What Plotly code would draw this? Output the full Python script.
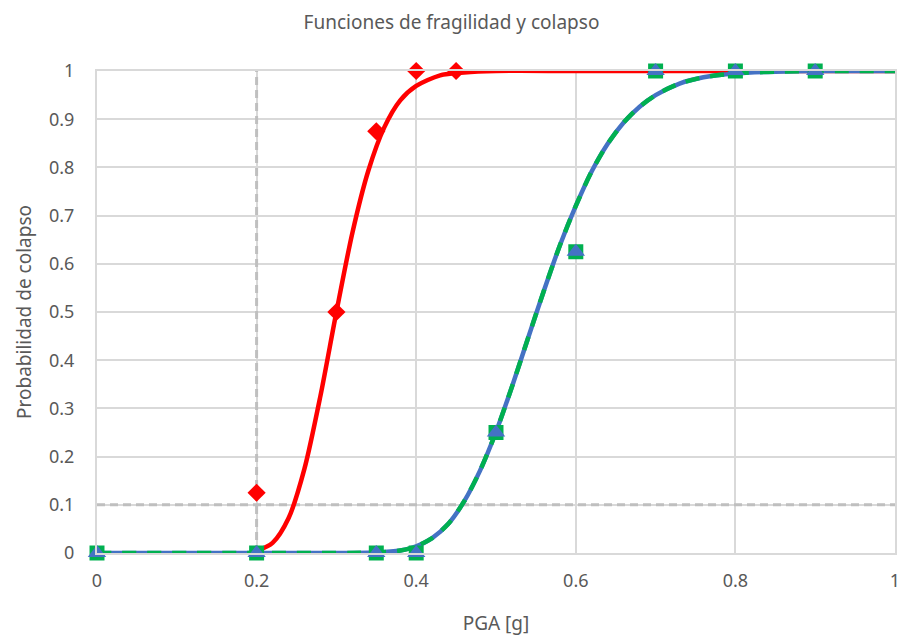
import plotly.graph_objects as go

red_pts_x = [0.2, 0.3, 0.35, 0.4, 0.45]
red_pts_y = [0.125, 0.5, 0.875, 1.0, 1.0]

sq_pts_x = [0.0, 0.2, 0.35, 0.4, 0.5, 0.6, 0.7, 0.8, 0.9]
sq_pts_y = [0.0, 0.0, 0.0, 0.0, 0.25, 0.625, 1.0, 1.0, 1.0]

tri_pts_x = [0.0, 0.2, 0.35, 0.4, 0.5, 0.6, 0.7, 0.8, 0.9]
tri_pts_y = [0.0, 0.0, 0.0, 0.0, 0.25, 0.625, 1.0, 1.0, 1.0]

# Fitted curves
red_curve_x = [0.2, 0.22, 0.24, 0.26, 0.28, 0.30, 0.32, 0.34, 0.36, 0.38,
               0.40, 0.43, 0.46, 0.50, 0.60, 0.80, 1.0]
red_curve_y = [0.004, 0.021, 0.072, 0.175, 0.326, 0.50, 0.664, 0.793, 0.883, 0.939,
               0.969, 0.991, 0.997, 1.0, 1.0, 1.0, 1.0]

fit_curve_x = [0.0, 0.2, 0.35, 0.38, 0.40, 0.42, 0.44, 0.46, 0.48, 0.50, 0.52,
               0.54, 0.56, 0.58, 0.60, 0.62, 0.64, 0.66, 0.68, 0.70, 0.73,
               0.76, 0.80, 0.85, 0.90, 1.0]
fit_curve_y = [0.0, 0.0, 0.001, 0.005, 0.014, 0.031, 0.06, 0.107, 0.171, 0.251, 0.345,
               0.445, 0.544, 0.638, 0.72, 0.792, 0.849, 0.893, 0.926, 0.95, 0.974,
               0.987, 0.995, 0.9986, 1.0, 1.0]

# Reference lines
vref_x = [0.2, 0.2]
vref_y = [0.0, 1.0]
href_x = [0.0, 1.0]
href_y = [0.1, 0.1]

x_ticks = [0, 0.2, 0.4, 0.6, 0.8, 1]
y_ticks = [0, 0.1, 0.2, 0.3, 0.4, 0.5, 0.6, 0.7, 0.8, 0.9, 1]

RED = "#ff0000"
BLUE = "#4472c4"
GREEN = "#00b050"
REF = "#bfbfbf"
GRID = "#d9d9d9"

fig = go.Figure()
fig.add_trace(go.Scatter(x=vref_x, y=vref_y, mode="lines", cliponaxis=False,
                         line=dict(color=REF, width=3, dash="8px,5px"), hoverinfo="skip"))
fig.add_trace(go.Scatter(x=href_x, y=href_y, mode="lines", cliponaxis=False,
                         line=dict(color=REF, width=3, dash="8px,5px"), hoverinfo="skip"))
fig.add_trace(go.Scatter(x=red_curve_x, y=red_curve_y, mode="lines", cliponaxis=False,
                         line=dict(color=RED, width=4.5, shape="spline", smoothing=0.8)))
fig.add_trace(go.Scatter(x=red_pts_x, y=red_pts_y, mode="markers", cliponaxis=False,
                         marker=dict(symbol="diamond", size=14, color=RED)))
fig.add_trace(go.Scatter(x=fit_curve_x, y=fit_curve_y, mode="lines", cliponaxis=False,
                         line=dict(color=BLUE, width=4.5, shape="spline", smoothing=0.8)))
fig.add_trace(go.Scatter(x=fit_curve_x, y=fit_curve_y, mode="lines", cliponaxis=False,
                         line=dict(color=GREEN, width=4.5, shape="spline", smoothing=0.8,
                                   dash="14px,11px")))
fig.add_trace(go.Scatter(x=sq_pts_x, y=sq_pts_y, mode="markers", cliponaxis=False,
                         marker=dict(symbol="square", size=15, color=GREEN)))
fig.add_trace(go.Scatter(x=tri_pts_x, y=tri_pts_y, mode="markers", cliponaxis=False,
                         marker=dict(symbol="triangle-up", size=16, color=BLUE)))

font_family = "Noto Sans, sans-serif"
fig.update_layout(
    width=903, height=639,
    paper_bgcolor="white", plot_bgcolor="white",
    showlegend=False,
    margin=dict(l=97, r=8, t=71, b=86, autoexpand=False),
    title=dict(text="Funciones de fragilidad y colapso", x=0.5, xanchor="center",
               y=1 - 22 / 639, yanchor="middle",
               font=dict(family=font_family, size=19, color="#595959")),
    font=dict(family=font_family, color="#595959"),
)
fig.update_xaxes(range=[0, 1], tickvals=x_ticks, ticktext=[str(v) for v in x_ticks],
                 showgrid=True, gridcolor=GRID, gridwidth=2, zeroline=False,
                 showline=True, linecolor=GRID, linewidth=2, mirror=True,
                 ticks="", automargin=False, ticklabelstandoff=10,
                 tickfont=dict(size=18, color="#595959"),
                 title=dict(text="PGA [g]", font=dict(size=19, color="#595959"), standoff=26))
fig.update_yaxes(range=[0, 1], tickvals=y_ticks, ticktext=[str(v) for v in y_ticks],
                 showgrid=True, gridcolor=GRID, gridwidth=2, zeroline=False,
                 showline=True, linecolor=GRID, linewidth=2, mirror=True,
                 ticks="", automargin=False, ticklabelstandoff=17,
                 tickfont=dict(size=18, color="#595959"),
                 title=dict(text="Probabilidad de colapso", font=dict(size=19, color="#595959"),
                            standoff=12))

# Remove the default 8px page margin so the figure fills the 903x639 window exactly.
fig.write_html("out.html",
               config={"displayModeBar": False},
               post_script="document.body.style.margin='0px';document.body.style.overflow='hidden';")
